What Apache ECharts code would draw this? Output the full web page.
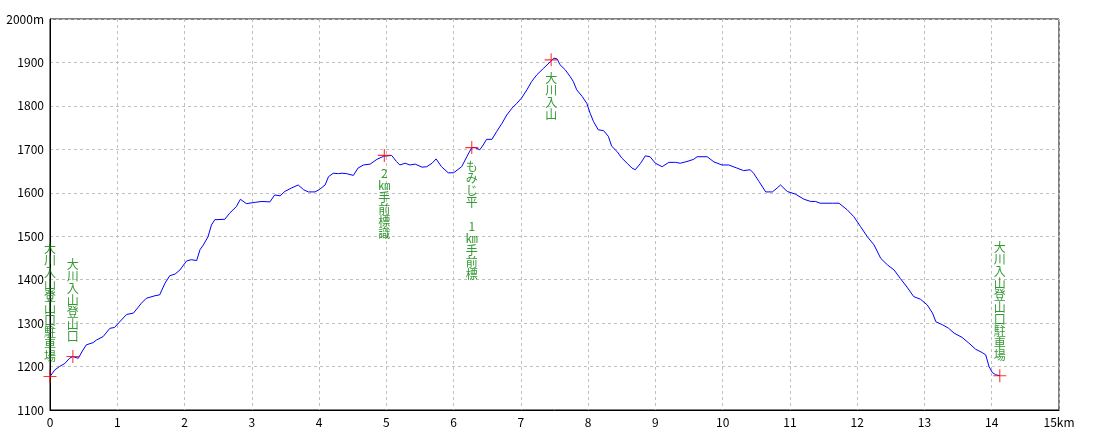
<!DOCTYPE html>
<html>
<head>
<meta charset="utf-8">
<script src="https://cdn.jsdelivr.net/npm/echarts@6/dist/echarts.min.js"></script>
<style>
html,body{margin:0;padding:0;background:#fff;}
#chart{width:1100px;height:440px;}
</style>
</head>
<body>
<div id="chart"></div>
<script>
// Elevation profile: distance (km) and elevation (m)
const distanceKm = [0.00,0.07,0.14,0.22,0.29,0.34,0.42,0.49,0.54,0.64,0.69,0.79,0.89,0.96,1.06,1.14,1.24,1.36,1.43,1.56,1.63,1.71,1.78,1.86,1.93,2.03,2.10,2.18,2.23,2.28,2.35,2.40,2.45,2.60,2.67,2.77,2.83,2.92,3.05,3.15,3.27,3.34,3.42,3.49,3.59,3.69,3.77,3.84,3.94,4.01,4.09,4.14,4.21,4.29,4.34,4.41,4.51,4.58,4.66,4.76,4.86,4.96,5.08,5.15,5.20,5.28,5.35,5.43,5.53,5.60,5.68,5.74,5.82,5.92,6.00,6.12,6.20,6.27,6.32,6.39,6.44,6.49,6.57,6.64,6.72,6.79,6.87,6.94,7.01,7.09,7.16,7.24,7.34,7.44,7.49,7.54,7.58,7.66,7.73,7.78,7.83,7.91,7.98,8.03,8.08,8.15,8.23,8.30,8.35,8.43,8.50,8.58,8.65,8.70,8.78,8.85,8.92,9.00,9.10,9.20,9.30,9.37,9.47,9.57,9.62,9.77,9.87,9.99,10.09,10.21,10.31,10.41,10.46,10.54,10.64,10.74,10.81,10.86,10.96,11.08,11.21,11.31,11.38,11.45,11.63,11.73,11.85,11.95,12.05,12.15,12.25,12.35,12.45,12.55,12.64,12.74,12.84,12.94,13.04,13.12,13.17,13.27,13.36,13.44,13.56,13.66,13.76,13.86,13.91,13.96,14.01,14.06,14.12];
const elevationM = [1177,1192,1200,1207,1219,1223,1219,1238,1250,1255,1261,1269,1288,1290,1307,1320,1323,1346,1357,1363,1365,1392,1409,1413,1422,1443,1446,1444,1469,1480,1499,1526,1538,1539,1553,1568,1585,1575,1578,1580,1579,1595,1593,1603,1611,1618,1607,1602,1602,1608,1618,1637,1645,1644,1645,1644,1640,1657,1664,1666,1677,1684,1686,1672,1664,1668,1664,1666,1659,1660,1668,1678,1660,1646,1646,1660,1684,1704,1704,1699,1710,1723,1723,1741,1760,1779,1795,1806,1818,1837,1856,1872,1887,1902,1910,1908,1895,1883,1868,1856,1837,1822,1806,1783,1764,1745,1743,1730,1707,1695,1680,1668,1657,1653,1668,1685,1683,1668,1660,1670,1670,1668,1672,1677,1683,1683,1671,1664,1664,1657,1651,1653,1645,1626,1602,1602,1611,1618,1603,1597,1585,1580,1580,1576,1576,1576,1561,1545,1522,1499,1480,1449,1434,1422,1403,1383,1361,1355,1342,1323,1303,1296,1288,1277,1267,1254,1240,1232,1227,1200,1186,1181,1179];

// Waypoints
const markerKm = [0.00, 0.34, 4.97, 6.27, 7.45, 14.12];
const markerElev = [1177, 1223, 1686, 1704, 1906, 1179];
const markerNames = ['大川入山登山口駐車場', '大川入山登山口', '2㎞手前標識', 'もみじ平　1㎞手前標', '大川入山', '大川入山登山口駐車場'];
const markerLabelAbove = [true, true, false, false, false, true];

// Axes
const xMin = 0, xMax = 15, xStep = 1, xUnit = 'km';
const yMin = 1100, yMax = 2000, yStep = 100, yUnit = 'm';

const profile = distanceKm.map((d, i) => [d, elevationM[i]]);
const markers = markerKm.map((d, i) => ({
  value: [d, markerElev[i]],
  name: markerNames[i],
  label: {
    position: markerLabelAbove[i] ? 'top' : 'bottom',
    distance: markerLabelAbove[i] ? 8 : 6
  }
}));

const FONT = '"Noto Sans CJK JP", "DejaVu Sans", sans-serif';
const chart = echarts.init(document.getElementById('chart'), null, {renderer: 'canvas'});
chart.setOption({
  animation: false,
  backgroundColor: '#ffffff',
  grid: {left: 50, right: 41, top: 19, bottom: 30, show: true, borderColor: '#000', borderWidth: 1, containLabel: false},
  xAxis: {
    type: 'value', min: xMin, max: xMax, interval: xStep,
    axisLine: {show: true, lineStyle: {color: '#000', width: 1}},
    axisTick: {show: false},
    axisLabel: {
      color: '#000', fontFamily: FONT, fontSize: 12, margin: 6,
      formatter: v => v === xMax ? v + xUnit : String(v)
    },
    splitLine: {show: true, lineStyle: {color: '#c0c0c0', type: [3, 3], width: 1}}
  },
  yAxis: {
    type: 'value', min: yMin, max: yMax, interval: yStep,
    axisLine: {show: true, lineStyle: {color: '#000', width: 1}},
    axisTick: {show: false},
    axisLabel: {
      color: '#000', fontFamily: FONT, fontSize: 12, margin: 6,
      formatter: v => v === yMax ? v + yUnit : String(v)
    },
    splitLine: {show: true, lineStyle: {color: '#c0c0c0', type: [3, 3], width: 1}}
  },
  series: [
    {
      type: 'line',
      data: profile,
      showSymbol: false,
      symbol: 'none',
      lineStyle: {color: '#0000ff', width: 1},
      z: 2
    },
    {
      type: 'scatter',
      data: markers,
      symbol: 'path://M11,0h2v11h11v2h-11v11h-2v-11h-11v-2h11z',
      symbolSize: 13,
      itemStyle: {color: '#ff0000'},
      z: 3,
      label: {
        show: true,
        color: '#008000',
        fontFamily: FONT,
        fontSize: 12,
        lineHeight: 12,
        align: 'center',
        formatter: p => Array.from(p.name).join('\n')
      }
    }
  ]
});
</script>
</body>
</html>
